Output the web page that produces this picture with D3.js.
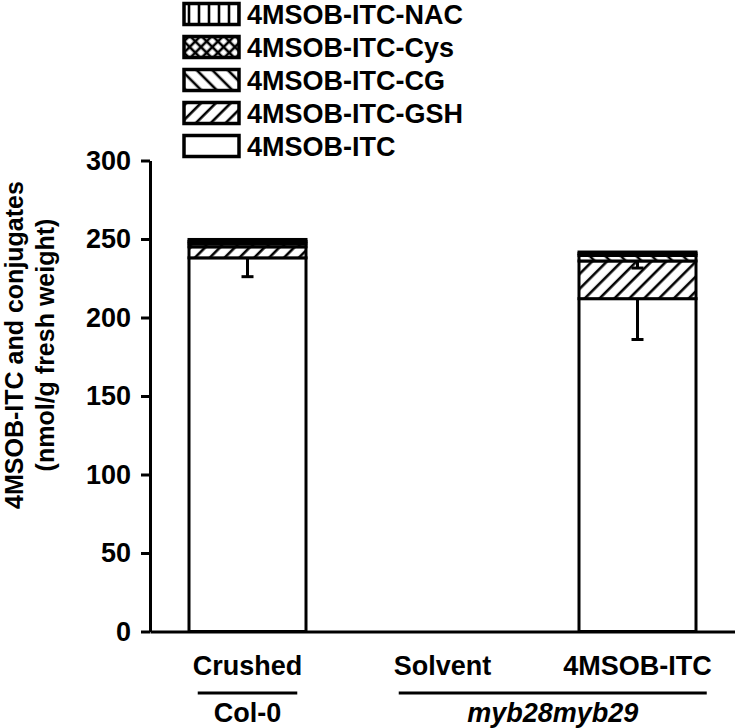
<!DOCTYPE html>
<html>
<head>
<meta charset="utf-8">
<script src="https://cdn.jsdelivr.net/npm/d3@7"></script>
<style>
  body { margin: 0; background: #fff; }
  text { font-family: "Liberation Sans", Arial, sans-serif; font-weight: bold; fill: #000; }
</style>
</head>
<body>
<script>
// ---- data ----
const categories = ["Crushed", "Solvent", "4MSOB-ITC"];
const groupNames = ["Col-0", "myb28myb29"];
const groupOf = ["Col-0", "myb28myb29", "myb28myb29"];
const components = ["4MSOB-ITC", "4MSOB-ITC-GSH", "4MSOB-ITC-CG", "4MSOB-ITC-Cys", "4MSOB-ITC-NAC"];
const itcValues = [238, 0, 212];
const gshValues = [7, 0, 24];
const cgValues = [2, 0, 3.5];
const cysValues = [1.5, 0, 1.2];
const nacValues = [1.2, 0, 1.0];
const itcErr = [12, 0, 26];
const gshErr = [0, 0, 4.5];
const yTicks = [0, 50, 100, 150, 200, 250, 300];

const width = 735,
  height = 728,
  fs = 27;

const rows = categories.map((c, i) => ({
  cat: c,
  "4MSOB-ITC": itcValues[i],
  "4MSOB-ITC-GSH": gshValues[i],
  "4MSOB-ITC-CG": cgValues[i],
  "4MSOB-ITC-Cys": cysValues[i],
  "4MSOB-ITC-NAC": nacValues[i],
}));

const svg = d3.select("body").append("svg").attr("width", width).attr("height", height);

// ---- patterns ----
const defs = svg.append("defs");
function hatch(id, size, angle, lines) {
  const p = defs.append("pattern")
    .attr("id", id)
    .attr("patternUnits", "userSpaceOnUse")
    .attr("width", size)
    .attr("height", size)
    .attr("patternTransform", `rotate(${angle})`);
  p.append("rect").attr("width", size).attr("height", size).attr("fill", "#fff");
  lines.forEach((l) => {
    p.append("line")
      .attr("x1", l[0]).attr("y1", l[1]).attr("x2", l[2]).attr("y2", l[3])
      .attr("stroke", "#000").attr("stroke-width", 2.6);
  });
}
hatch("p-nac", 10, 0, [[5, 0, 5, 10]]);
hatch("p-cys", 8, 45, [[4, 0, 4, 8], [0, 4, 8, 4]]);
hatch("p-cg", 11, -45, [[5, 0, 5, 11]]);
hatch("p-gsh", 10.5, 45, [[5, 0, 5, 10.5]]);

const fillFor = {
  "4MSOB-ITC": "#fff",
  "4MSOB-ITC-GSH": "url(#p-gsh)",
  "4MSOB-ITC-CG": "url(#p-cg)",
  "4MSOB-ITC-Cys": "url(#p-cys)",
  "4MSOB-ITC-NAC": "url(#p-nac)",
};

// ---- scales ----
const x = d3.scaleBand().domain(categories).range([150, 735]).paddingInner(0.4).paddingOuter(0.2);
const y = d3.scaleLinear().domain([0, 300]).range([631.5, 160.5]);

// ---- bars ----
const stacked = d3.stack().keys(components)(rows);

svg.append("g")
  .selectAll("g")
  .data(stacked)
  .enter()
  .append("g")
  .attr("fill", (d) => fillFor[d.key])
  .selectAll("rect")
  .data((d) => d.filter((s) => s[1] > s[0]))
  .enter()
  .append("rect")
  .attr("x", (d) => x(d.data.cat))
  .attr("y", (d) => y(d[1]))
  .attr("width", x.bandwidth())
  .attr("height", (d) => y(d[0]) - y(d[1]))
  .attr("stroke", "#000")
  .attr("stroke-width", 3);

// ---- error bars (drawn downward) ----
const errs = [];
categories.forEach((c, i) => {
  if (itcErr[i] > 0) errs.push({ cat: c, top: itcValues[i], sd: itcErr[i] });
  if (gshErr[i] > 0) errs.push({ cat: c, top: itcValues[i] + gshValues[i], sd: gshErr[i] });
});
const eb = svg.append("g").attr("stroke", "#000").attr("stroke-width", 3);
eb.selectAll(".ev")
  .data(errs)
  .enter()
  .append("line")
  .attr("x1", (d) => x(d.cat) + x.bandwidth() / 2)
  .attr("x2", (d) => x(d.cat) + x.bandwidth() / 2)
  .attr("y1", (d) => y(d.top))
  .attr("y2", (d) => y(d.top - d.sd));
eb.selectAll(".ec")
  .data(errs)
  .enter()
  .append("line")
  .attr("x1", (d) => x(d.cat) + x.bandwidth() / 2 - 6)
  .attr("x2", (d) => x(d.cat) + x.bandwidth() / 2 + 6)
  .attr("y1", (d) => y(d.top - d.sd))
  .attr("y2", (d) => y(d.top - d.sd));

// ---- axes ----
const yAxis = svg.append("g")
  .attr("transform", "translate(150,0)")
  .call(d3.axisLeft(y).tickValues(yTicks).tickSize(9).tickSizeOuter(0).tickPadding(10));
yAxis.selectAll("path, line").attr("stroke", "#000").attr("stroke-width", 3);
yAxis.selectAll("text").attr("font-size", fs).attr("font-family", null);

const xAxis = svg.append("g")
  .attr("transform", "translate(0,631.5)")
  .call(d3.axisBottom(x).tickSize(0).tickPadding(24));
xAxis.select("path").attr("stroke", "#000").attr("stroke-width", 3);
xAxis.selectAll("text").attr("font-size", fs).attr("font-family", null);

// ---- group labels with underline ----
const tickTexts = {};
xAxis.selectAll(".tick").each(function (d) {
  const bb = this.querySelector("text").getBBox();
  const cx = x(d) + x.bandwidth() / 2;
  tickTexts[d] = [cx + bb.x, cx + bb.x + bb.width];
});
groupNames.forEach((g) => {
  const cats = categories.filter((c, i) => groupOf[i] === g);
  const x0 = d3.min(cats, (c) => tickTexts[c][0]) + 5;
  const x1 = d3.max(cats, (c) => tickTexts[c][1]) - 5;
  svg.append("line")
    .attr("x1", x0).attr("x2", x1)
    .attr("y1", 693).attr("y2", 693)
    .attr("stroke", "#000").attr("stroke-width", 3);
  svg.append("text")
    .attr("x", (x0 + x1) / 2)
    .attr("y", 722)
    .attr("text-anchor", "middle")
    .attr("font-size", fs)
    .attr("font-style", g === "Col-0" ? "normal" : "italic")
    .text(g);
});

// ---- y label ----
const yLabel = ["4MSOB-ITC and conjugates", "(nmol/g fresh weight)"];
svg.selectAll(".ylab")
  .data(yLabel)
  .enter()
  .append("text")
  .attr("transform", (d, i) => `translate(${23 + i * 31},345) rotate(-90)`)
  .attr("text-anchor", "middle")
  .attr("font-size", 25)
  .text((d) => d);

// ---- legend ----
const legendItems = components.slice().reverse();
const legend = svg.append("g").attr("transform", "translate(184,14)");
const li = legend.selectAll("g")
  .data(legendItems)
  .enter()
  .append("g")
  .attr("transform", (d, i) => `translate(0,${i * 33})`);
li.append("rect")
  .attr("x", 0)
  .attr("y", -10.5)
  .attr("width", 55)
  .attr("height", 21)
  .attr("fill", (d) => fillFor[d])
  .attr("stroke", "#000")
  .attr("stroke-width", 3.5);
li.append("text")
  .attr("x", 63)
  .attr("y", 9.5)
  .attr("font-size", fs)
  .text((d) => d);
</script>
</body>
</html>
